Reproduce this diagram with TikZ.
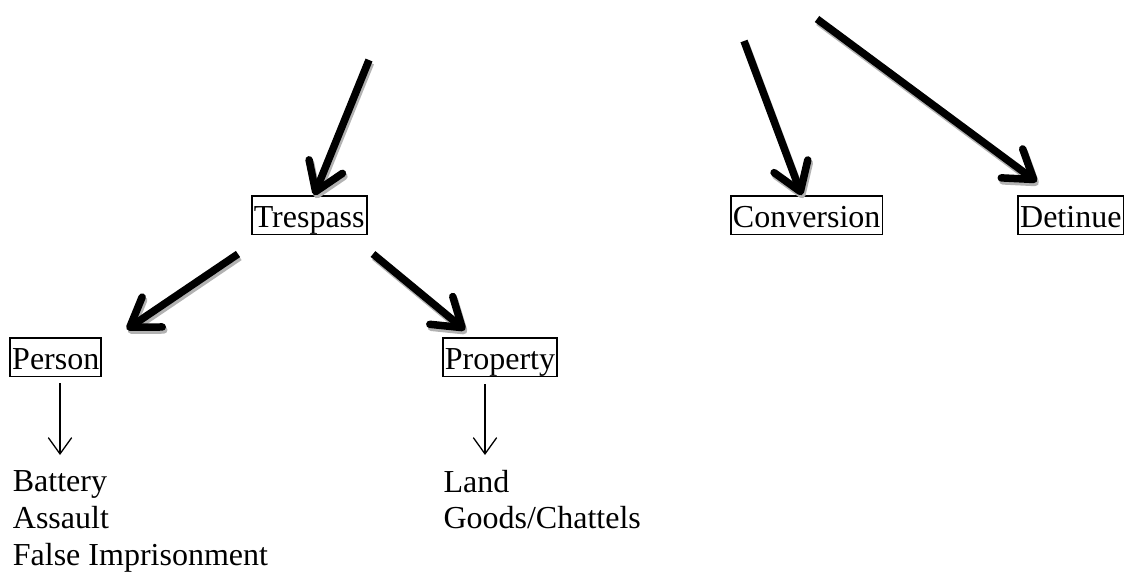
\documentclass[tikz,border=0pt]{standalone}
\usepackage{fontspec}
\setmainfont{Liberation Serif}
\usetikzlibrary{arrows.meta}
\begin{document}
\begin{tikzpicture}[x=1pt,y=-1pt,
  box/.style={draw, line width=1.8pt, inner xsep=2pt, inner ysep=0pt, text height=31pt, text depth=7.5pt, anchor=base, font=\fontsize{32}{36.7}\selectfont},
  item/.style={inner sep=0pt, anchor=base west, font=\fontsize{32}{36.7}\selectfont},
  bigarrow/.style={line width=7.5pt, -{Straight Barb[length=27pt,width=36pt,line cap=round,line join=round]}},
  shadowarrow/.style={bigarrow, draw=gray!60, transform canvas={xshift=1.5pt,yshift=-3pt}},
  thinarrow/.style={line width=1.3pt, -{Straight Barb[length=16pt,width=23pt,line cap=round]}}
]
\useasboundingbox (0,0) rectangle (1124,581);

\node[box] (tres) at (309.2,227) {Trespass};
\node[box] (conv) at (806.7,227) {Conversion};
\node[box] (det) at (1070.8,227) {Detinue};
\node[box] (pers) at (55.8,369) {Person};
\node[box] (prop) at (500,369) {Property};

\node[item] (bat) at (12.7,491.7) {Battery};
\node[item] (asl) at (12.7,528.3) {Assault};
\node[item] (fal) at (12.7,565) {False Imprisonment};
\node[item] (land) at (443.3,492.3) {Land};
\node[item] (goods) at (443.3,528.7) {Goods/Chattels};

\coordinate (s1) at (369,60);
\coordinate (e1) at ([xshift=5pt]tres.north);
\coordinate (s2) at (744,41);
\coordinate (e2) at ([xshift=-5pt]conv.north);
\coordinate (s3) at (817,19);
\coordinate (e3) at (1036.7,181.7);
\coordinate (s4) at (238,254);
\coordinate (e4) at (126.7,329.3);
\coordinate (s5) at (373,254);
\coordinate (e5) at (465,330);
\coordinate (s6) at (60,383);
\coordinate (e6) at (60,455);
\coordinate (s7) at (485,384);
\coordinate (e7) at (485,455);

\foreach \a/\b in {s1/e1,s2/e2,s3/e3,s4/e4,s5/e5}
  \draw[shadowarrow] (\a) -- (\b);
\foreach \a/\b in {s1/e1,s2/e2,s3/e3,s4/e4,s5/e5}
  \draw[bigarrow] (\a) -- (\b);
\draw[thinarrow] (s6) -- (e6);
\draw[thinarrow] (s7) -- (e7);
\end{tikzpicture}
\end{document}
